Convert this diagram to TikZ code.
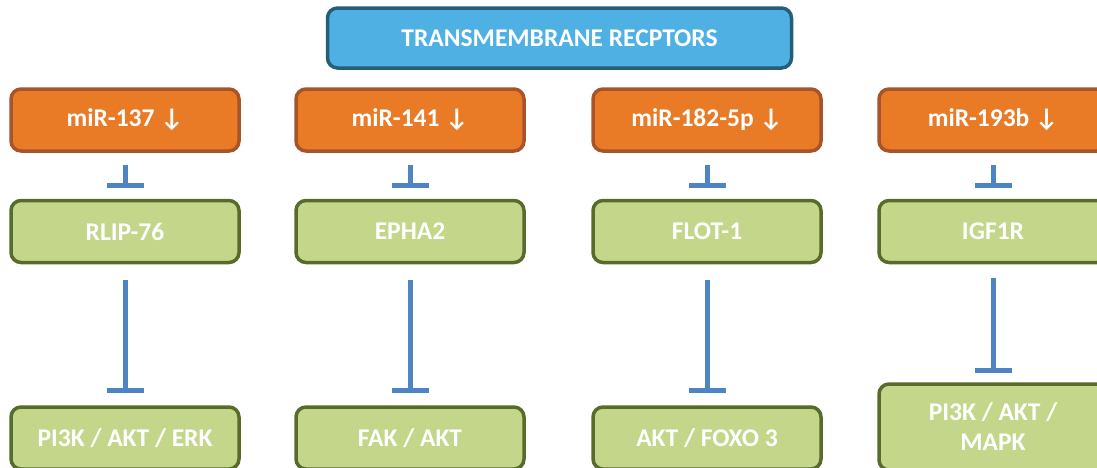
\documentclass[tikz,border=0pt]{standalone}
\usepackage{fontspec}
\setmainfont{Carlito}
\usetikzlibrary{arrows.meta}
\definecolor{topblue}{HTML}{4FB1E3}
\definecolor{topborder}{HTML}{245F75}
\definecolor{mirorange}{HTML}{E97A26}
\definecolor{mirborder}{HTML}{A8542A}
\definecolor{tgreen}{HTML}{C3D68A}
\definecolor{tborder}{HTML}{586B2A}
\definecolor{inhblue}{HTML}{4F84C4}
\begin{document}
\begin{tikzpicture}[x=1pt, y=-1pt, font=\bfseries\fontsize{25.5}{30}\selectfont,
  box/.style={draw, rounded corners=10pt, line width=3.5pt, minimum width=228pt, minimum height=62pt, text=white, align=center},
  receptor/.style={box, fill=topblue, draw=topborder, minimum width=464pt, minimum height=60pt},
  mir/.style={box, fill=mirorange, draw=mirborder},
  target/.style={box, fill=tgreen, draw=tborder},
  inhib/.style={-{Bar[width=37pt]}, line width=5pt, draw=inhblue, shorten <=12pt, shorten >=11pt}]
  \useasboundingbox (0,0) rectangle (1097,467);
  \node[receptor] (top) at (559.5,38) {TRANSMEMBRANE RECPTORS};
  % microRNAs
  \node[mir] (mir1) at (125,120) {miR-137 ↓};
  \node[mir] (mir2) at (410,120) {miR-141 ↓};
  \node[mir] (mir3) at (707,120) {miR-182-5p ↓};
  \node[mir] (mir4) at (993,120) {miR-193b ↓};
  % receptors
  \node[target] (rlip) at (125,231.5) {RLIP-76};
  \node[target] (epha) at (410,231.5) {EPHA2};
  \node[target] (flot) at (707,231.5) {FLOT-1};
  \node[target] (igf) at (993,231.5) {IGF1R};
  % pathways
  \node[target] (path1) at (125,438) {PI3K / AKT / ERK};
  \node[target] (path2) at (410,438) {FAK / AKT};
  \node[target] (path3) at (707,438) {AKT / FOXO 3};
  \node[target, minimum height=86pt] (path4) at (993,427) {PI3K / AKT /\\MAPK};
  \draw[inhib] (mir1) -- (rlip);
  \draw[inhib] (mir2) -- (epha);
  \draw[inhib] (mir3) -- (flot);
  \draw[inhib] (mir4) -- (igf);
  \draw[inhib, shorten <=16pt, shorten >=12pt] (rlip) -- (path1);
  \draw[inhib, shorten <=16pt, shorten >=12pt] (epha) -- (path2);
  \draw[inhib, shorten <=16pt, shorten >=12pt] (flot) -- (path3);
  \draw[inhib, shorten <=14pt, shorten >=9pt] (igf) -- (path4);
\end{tikzpicture}
\end{document}
